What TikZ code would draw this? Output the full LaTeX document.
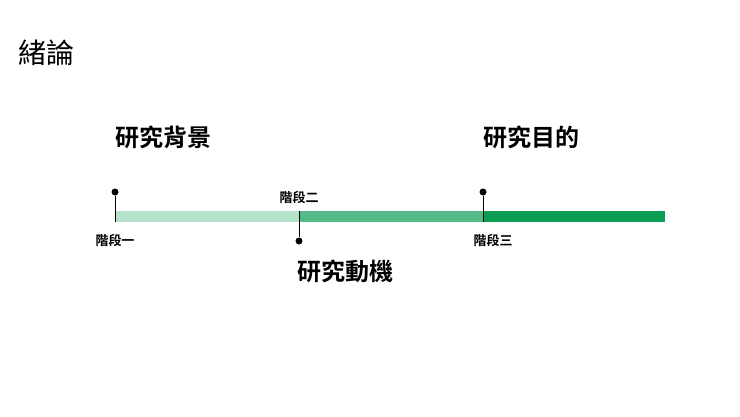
\documentclass[tikz,border=0pt]{standalone}
\usepackage{fontspec}
\setmainfont{Noto Sans CJK TC}
\newfontfamily\cjkb{Noto Sans CJK TC Bold}
\definecolor{gA}{HTML}{B5E2CB}
\definecolor{gB}{HTML}{53BA88}
\definecolor{gC}{HTML}{0C9D55}
\begin{document}
\begin{tikzpicture}[x=1pt,y=-1pt,
  big/.style={inner sep=0,font=\cjkb\fontsize{24}{24}\selectfont},
  small/.style={inner sep=0,font=\cjkb\fontsize{13}{13}\selectfont},
  pin/.style={line width=0.8pt,black},
  dot/.style={circle,fill=black,inner sep=0,minimum size=7pt}]
\useasboundingbox (0,0) rectangle (740,416);
\node[inner sep=0,anchor=west,font=\fontsize{28}{28}\selectfont] (t) at (18,53) {緒論};
\fill[gA] (115,211) rectangle (299,222);
\fill[gB] (299,211) rectangle (483,222);
\fill[gC] (483,211) rectangle (665,222);
\node[dot] (d1) at (115,192) {};
\node[dot] (d2) at (299,241) {};
\node[dot] (d3) at (483,192) {};
\coordinate (b1) at (115,222);
\coordinate (b2) at (299,211);
\coordinate (b3) at (483,222);
\draw[pin] (d1) -- (b1);
\draw[pin] (d2) -- (b2);
\draw[pin] (d3) -- (b3);
\node[big,anchor=west] (h1) at (115,137) {研究背景};
\node[big,anchor=west] (h2) at (297,271) {研究動機};
\node[big,anchor=west] (h3) at (483,137) {研究目的};
\node[small] (s1) at (115,241) {階段一};
\node[small] (s2) at (299,198) {階段二};
\node[small] (s3) at (493,241) {階段三};
\end{tikzpicture}
\end{document}
